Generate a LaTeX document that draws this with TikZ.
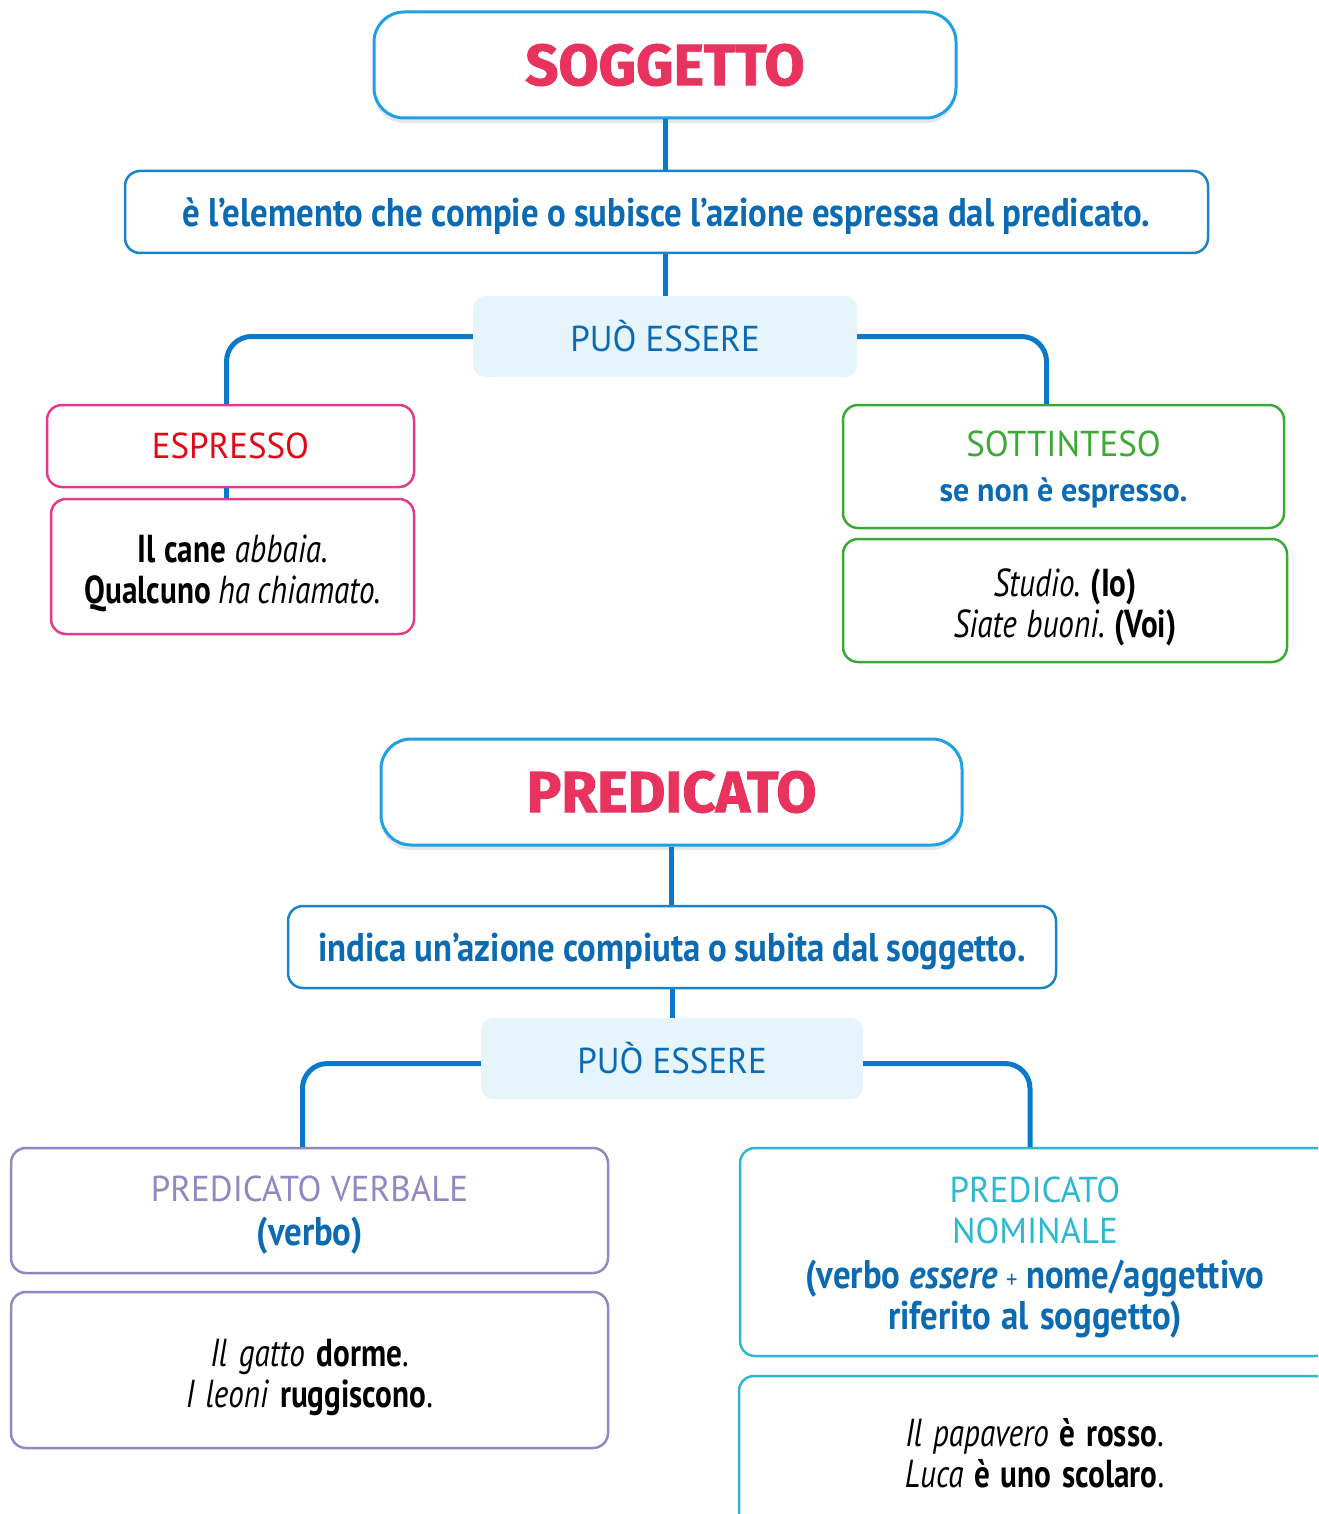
\documentclass[tikz,border=0pt]{standalone}
\usepackage{fontspec}
\setmainfont{PT Sans}
\newfontfamily\headfont{Fira Sans}[FakeBold=1.5]
\newfontfamily\deffont{PT Sans}[FakeStretch=0.87]
\newfontfamily\labelfont{PT Sans}[FakeStretch=0.97]
\newfontfamily\exfont{PT Sans}[FakeStretch=0.8]
\newcommand{\upstrut}[1]{\rule{0pt}{#1}}
\newcommand{\tightspace}{\frenchspacing\spaceskip=0.17em plus 0.05em minus 0.03em\relax}
\usetikzlibrary{positioning,shadows}
\definecolor{titlered}{HTML}{E8335F}
\definecolor{titleblue}{HTML}{1DA1E2}
\definecolor{defblue}{HTML}{1A82C8}
\definecolor{textblue}{HTML}{0A6AB2}
\definecolor{linkblue}{HTML}{0A7AC8}
\definecolor{puofill}{HTML}{E6F4FC}
\definecolor{esppink}{HTML}{E5398A}
\definecolor{espred}{HTML}{E30613}
\definecolor{sotgreen}{HTML}{3BAA35}
\definecolor{pvpurple}{HTML}{9088C2}
\definecolor{pnteal}{HTML}{2BB8D0}
\begin{document}
\begin{tikzpicture}[
    x=1pt, y=-1pt,
    title/.style={draw=titleblue, line width=3pt, rounded corners=30pt, fill=white,
        drop shadow={opacity=0.2, shadow xshift=0pt, shadow yshift=-5pt},
        text=titlered, inner sep=0pt, align=center,
        font=\headfont\bfseries\fontsize{58}{64}\selectfont},
    defbox/.style={draw=defblue, line width=2.5pt, rounded corners=15pt, fill=white,
        text=textblue, inner sep=0pt, align=center, text depth=0pt,
        font=\deffont\bfseries\fontsize{40}{41}\selectfont,
        execute at begin node=\tightspace},
    puo/.style={fill=puofill, rounded corners=12pt, inner sep=0pt, text=textblue,
        font=\labelfont\fontsize{36}{41}\selectfont},
    catbox/.style={draw=#1, line width=2.5pt, rounded corners=15pt, fill=white,
        inner sep=0pt, align=center, font=\labelfont\fontsize{36}{41}\selectfont,
        execute at begin node=\tightspace},
    exbox/.style={catbox=#1, font=\exfont\fontsize{39}{41}\selectfont},
    link/.style={draw=linkblue, line width=5pt, rounded corners=25pt}
]
    \useasboundingbox (0,0) rectangle (1318,1514);
    \clip (0,0) rectangle (1318,1514);

    % soggetto
    \node[title, text width=582pt, minimum height=106pt] (sogg) at (665,65) {SOGGETTO};
    \node[defbox, text width=1083pt, minimum height=82pt] (def1) at (666.5,212)
        {è l’elemento che compie o subisce l’azione espressa dal predicato.};
    \node[puo, minimum width=384pt, minimum height=81pt] (puo1) at (665,336.5) {PUÒ ESSERE};
    \node[catbox=esppink, text width=367pt, minimum height=82pt, text=espred] (esp) at (230.5,446) {ESPRESSO};
    \node[exbox=esppink, text width=363pt, minimum height=135pt] (espex) at (232.5,566.5)
        {\upstrut{42pt}\textbf{Il cane} \textit{abbaia.}\\ \textbf{Qualcuno} \textit{ha chiamato.}};
    \node[catbox=sotgreen, text width=441pt, minimum height=123pt] (sot) at (1063.5,466.5)
        {\upstrut{31pt}\textcolor{sotgreen}{SOTTINTESO}\\[4pt]
         {\fontsize{33}{41}\selectfont\bfseries\tightspace\color{textblue} se non è espresso.}};
    \node[exbox=sotgreen, text width=444pt, minimum height=123pt] (sotex) at (1065,600.5)
        {\upstrut{41pt}\textit{Studio.} \textbf{(Io)}\\ \textit{Siate buoni.} \textbf{(Voi)}};

    \draw[link] (sogg.south) -- (sogg.south |- def1.north);
    \draw[link] (def1.south -| puo1.north) -- (puo1.north);
    \draw[link] (puo1.west) -| ([xshift=-4pt]esp.north);
    \draw[link] (puo1.east) -| ([xshift=-17pt]sot.north);
    \draw[link] ([xshift=-4pt]esp.south) -- ([xshift=-4pt]esp.south |- espex.north);

    % predicato
    \node[title, text width=581pt, minimum height=106pt] (pred) at (671.5,792) {PREDICATO};
    \node[defbox, text width=768pt, minimum height=82pt] (def2) at (672,947)
        {indica un’azione compiuta o subita dal soggetto.};
    \node[puo, minimum width=382pt, minimum height=81pt] (puo2) at (672,1058.5) {PUÒ ESSERE};
    \node[catbox=pvpurple, text width=597pt, minimum height=125pt] (pv) at (309.5,1210.5)
        {\upstrut{35pt}\textcolor{pvpurple}{PREDICATO VERBALE}\\[3pt]
         {\deffont\bfseries\fontsize{40}{41}\selectfont\color{textblue}(verbo)}};
    \node[exbox=pvpurple, text width=597pt, minimum height=156pt] (pvex) at (309.5,1370)
        {\upstrut{42pt}\textit{Il gatto} \textbf{dorme}.\\ \textit{I leoni} \textbf{ruggiscono}.};
    \node[catbox=pnteal, text width=590pt, minimum height=208pt] (pn) at (1035,1252)
        {\upstrut{37pt}\textcolor{pnteal}{PREDICATO\\NOMINALE}\\[4pt]
         {\deffont\bfseries\fontsize{40}{41}\selectfont\tightspace\color{textblue}(verbo \textit{essere}
          {\mdseries\fontsize{26}{26}\selectfont +} nome/aggettivo\\ riferito al soggetto)}};
    \node[exbox=pnteal, text width=591pt, minimum height=154pt] (pnex) at (1034.5,1453)
        {\textit{Il papavero} \textbf{è rosso}.\\ \textit{Luca} \textbf{è uno scolaro}.};

    \draw[link] (pred.south) -- (pred.south |- def2.north);
    \draw[link] (def2.south -| puo2.north) -- (puo2.north);
    \draw[link] ([yshift=-5pt]puo2.west) -| ([xshift=-7pt]pv.north);
    \draw[link] ([yshift=-5pt]puo2.east) -| ([xshift=-5pt]pn.north);
\end{tikzpicture}
\end{document}
